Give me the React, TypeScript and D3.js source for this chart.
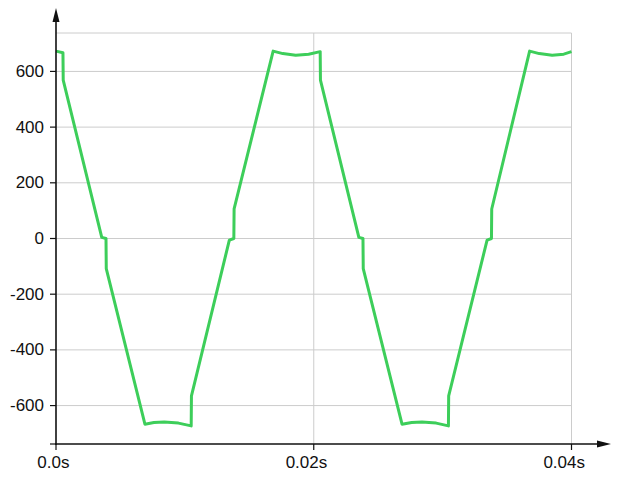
import React from "react";
import * as d3 from "d3";

const timeMs = [
  0, 0.54, 0.56, 3.55, 3.88, 3.9, 6.9, 7.6, 8.4, 9.5, 10.49, 10.51, 13.45, 13.8, 13.82, 16.85,
  17.6, 18.6, 19.6, 20.5, 20.52, 23.5, 23.82, 23.84, 26.85, 27.6, 28.4, 29.5, 30.45, 30.47,
  33.45, 33.79, 33.81, 36.75, 37.5, 38.5, 39.4, 40,
];
const voltage = [
  673, 667, 569, 4, 0, -108, -667, -661, -659, -663, -673, -565, -6, 0, 106, 673,
  664, 658, 662, 671, 569, 4, 0, -108, -667, -661, -659, -663, -673, -565,
  -6, 0, 106, 673, 664, 658, 662, 671,
];
const yTicks = [-600, -400, -200, 0, 200, 400, 600];
const xTicks = [0, 0.02, 0.04];
const xTickLabels = ["0.0s", "0.02s", "0.04s"];

const W = 635;
const H = 492;
const L = 56;
const R = 571.5;
const T = 33;
const B = 444;

export default function App() {
  const x = d3.scaleLinear().domain([0, 0.04]).range([L, R]);
  const y = d3.scaleLinear().domain([-738, 738]).range([B, T]);
  const pts: [number, number][] = timeMs.map((t, i) => [t / 1000, voltage[i]]);
  const line = d3
    .line<[number, number]>()
    .x((d) => x(d[0]))
    .y((d) => y(d[1]));
  const font = "'Liberation Sans', Arial, sans-serif";
  const axisColor = "#111";
  const grid = "#cccccc";
  return (
    <svg
      width={W}
      height={H}
      style={{ position: "absolute", left: 0, top: 0, background: "#fff" }}
    >
      {yTicks.map((v) => (
        <line key={"gy" + v} x1={L} x2={R} y1={y(v)} y2={y(v)} stroke={grid} strokeWidth={1} />
      ))}
      <line x1={L} x2={R} y1={y(738)} y2={y(738)} stroke={grid} strokeWidth={1} />
      {xTicks.slice(1).map((t) => (
        <line key={"gx" + t} x1={x(t)} x2={x(t)} y1={T} y2={B} stroke={grid} strokeWidth={1} />
      ))}
      <path d={line(pts) || ""} fill="none" stroke="#3dce5a" strokeWidth={3} strokeLinejoin="round" />
      <line x1={L} x2={L} y1={B + 1} y2={16} stroke={axisColor} strokeWidth={1.6} />
      <path d={`M${L - 3.5},${22} L${L},${8} L${L + 3.5},${22} Z`} fill={axisColor} />
      {yTicks.map((v) => (
        <g key={"ty" + v}>
          <line x1={L - 6} x2={L} y1={y(v)} y2={y(v)} stroke={axisColor} strokeWidth={1.2} />
          <text
            x={L - 12}
            y={y(v)}
            textAnchor="end"
            dominantBaseline="central"
            fontFamily={font}
            fontSize={17}
            fill="#111"
          >
            {v}
          </text>
        </g>
      ))}
      <line x1={L - 6} x2={L} y1={B} y2={B} stroke={axisColor} strokeWidth={1.2} />
      <line x1={L - 1} x2={603} y1={B} y2={B} stroke={axisColor} strokeWidth={1.6} />
      <path d={`M${597},${B - 3.5} L${611},${B} L${597},${B + 3.5} Z`} fill={axisColor} />
      {xTicks.map((t, i) => (
        <g key={"tx" + t}>
          <line x1={x(t)} x2={x(t)} y1={B} y2={B + 6} stroke={axisColor} strokeWidth={1.2} />
          <text
            x={x(t) + 13.5}
            y={468}
            textAnchor="end"
            fontFamily={font}
            fontSize={17}
            fill="#111"
          >
            {xTickLabels[i]}
          </text>
        </g>
      ))}
    </svg>
  );
}
